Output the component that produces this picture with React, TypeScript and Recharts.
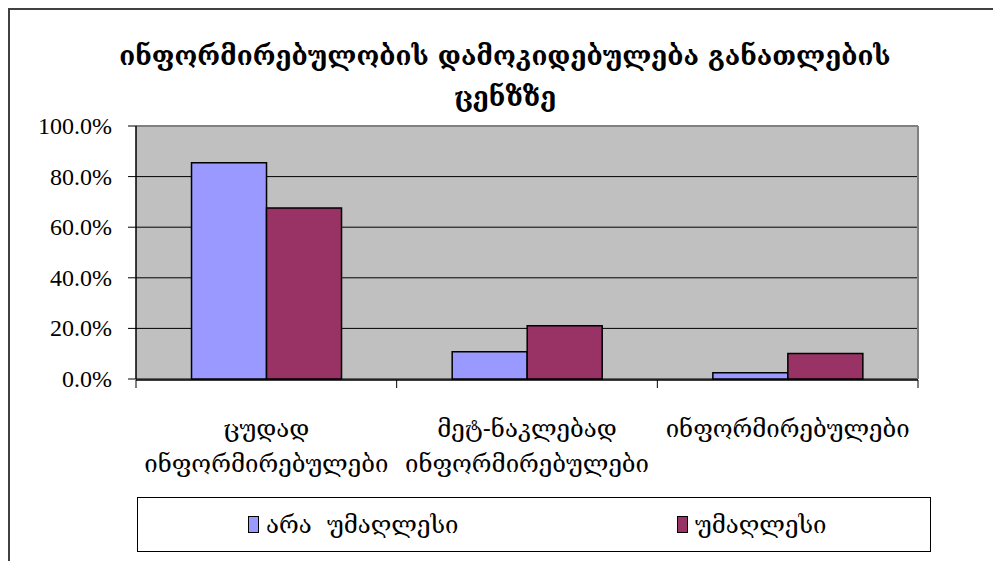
import { BarChart, Bar, XAxis, YAxis, CartesianGrid, Legend, ReferenceLine } from 'recharts'

const titleLines = ['ინფორმირებულობის დამოკიდებულება განათლების', 'ცენზზე']
const categories = ['ცუდად ინფორმირებულები', 'მეტ-ნაკლებად ინფორმირებულები', 'ინფორმირებულები']
const seriesNames = ['არა  უმაღლესი', 'უმაღლესი']
const seriesColors = ['#9999ff', '#993366']
const notHigher = [0.855, 0.108, 0.025]
const higher = [0.676, 0.21, 0.101]
const yTicks = [0, 0.2, 0.4, 0.6, 0.8, 1]
const edgeTicks = [0, 1, 2, 3]

const geoFont = '"DejaVu Serif", "DejaVu Sans", serif'
const numFont = '"Liberation Serif", "Times New Roman", serif'

const data = categories.map((name, i) => ({
  name,
  idx: i + 0.5,
  a: notHigher[i],
  b: higher[i],
}))

function CategoryTick({ x, y, payload }: any) {
  const lines = String(payload.value).split(' ')
  return (
    <text x={x} y={y} textAnchor="middle" style={{ fontFamily: geoFont, fontSize: 24 }} fill="#000">
      {lines.map((line, i) => (
        <tspan key={i} x={x} dy={i === 0 ? 58 : 35}>
          {line}
        </tspan>
      ))}
    </text>
  )
}

function PercentTick({ x, y, payload }: any) {
  return (
    <text x={x} y={y} dy={8} textAnchor="end" style={{ fontFamily: numFont, fontSize: 24 }} fill="#000">
      {(payload.value * 100).toFixed(1) + '%'}
    </text>
  )
}

function LegendBox() {
  return (
    <div
      style={{
        boxSizing: 'border-box',
        width: 794,
        height: 55,
        border: '1px solid #000',
        display: 'flex',
        alignItems: 'center',
        paddingLeft: 110,
        fontFamily: geoFont,
        fontSize: 24,
        color: '#000',
        background: '#fff',
      }}
    >
      {seriesNames.map((name, i) => (
        <div
          key={name}
          style={{ width: i === 0 ? 429 : 'auto', flexShrink: 0, display: 'flex', alignItems: 'center', whiteSpace: 'pre' }}
        >
          <span
            style={{
              display: 'inline-block',
              width: 9,
              height: 15,
              background: seriesColors[i],
              border: '1px solid #000',
              marginRight: 7,
            }}
          />
          {name}
        </div>
      ))}
    </div>
  )
}

export default function App() {
  return (
    <div
      style={{
        position: 'relative',
        width: 991,
        height: 551,
        borderLeft: '2px solid #404040',
        borderTop: '2px solid #404040',
        background: '#fff',
      }}
    >
      <div
        style={{
          position: 'absolute',
          left: 0,
          top: 26,
          width: 990,
          textAlign: 'center',
          fontFamily: geoFont,
          fontWeight: 'bold',
          fontSize: 26,
          lineHeight: '41px',
          color: '#000',
          zIndex: 1,
        }}
      >
        {titleLines.map((l) => (
          <div key={l}>{l}</div>
        ))}
      </div>
      <BarChart
        width={991}
        height={551}
        data={data}
        margin={{ top: 116, right: 83, left: 0, bottom: 125 }}
        barGap={0}
        barCategoryGap="21.3%"
      >
        <CartesianGrid vertical={false} fill="#c0c0c0" stroke="#000" strokeOpacity={1} />
        <XAxis
          xAxisId="edges"
          type="number"
          dataKey="idx"
          domain={[0, 3]}
          ticks={edgeTicks}
          tick={() => <g />}
          height={1}
          tickSize={8}
          axisLine={{ stroke: '#000', strokeWidth: 1.5 }}
          tickLine={{ stroke: '#000' }}
        />
        <XAxis
          dataKey="name"
          interval={0}
          height={1}
          axisLine={false}
          tickLine={false}
          tickSize={0}
          tickMargin={0}
          tick={<CategoryTick />}
        />
        <YAxis
          width={126}
          domain={[0, 1]}
          ticks={yTicks}
          tickSize={8}
          tickMargin={16}
          axisLine={{ stroke: '#000', strokeWidth: 1.5 }}
          tickLine={{ stroke: '#000' }}
          tick={<PercentTick />}
        />
        <ReferenceLine y={1} stroke="#808080" strokeWidth={2} />
        <ReferenceLine xAxisId="edges" x={3} stroke="#808080" strokeWidth={2} />
        <Bar dataKey="a" name={seriesNames[0]} fill={seriesColors[0]} stroke="#000" strokeWidth={1.5} isAnimationActive={false} />
        <Bar dataKey="b" name={seriesNames[1]} fill={seriesColors[1]} stroke="#000" strokeWidth={1.5} isAnimationActive={false} />
        <Legend
          verticalAlign="bottom"
          content={<LegendBox />}
          wrapperStyle={{ left: 127, bottom: 9, width: 794, height: 55 }}
        />
      </BarChart>
    </div>
  )
}
